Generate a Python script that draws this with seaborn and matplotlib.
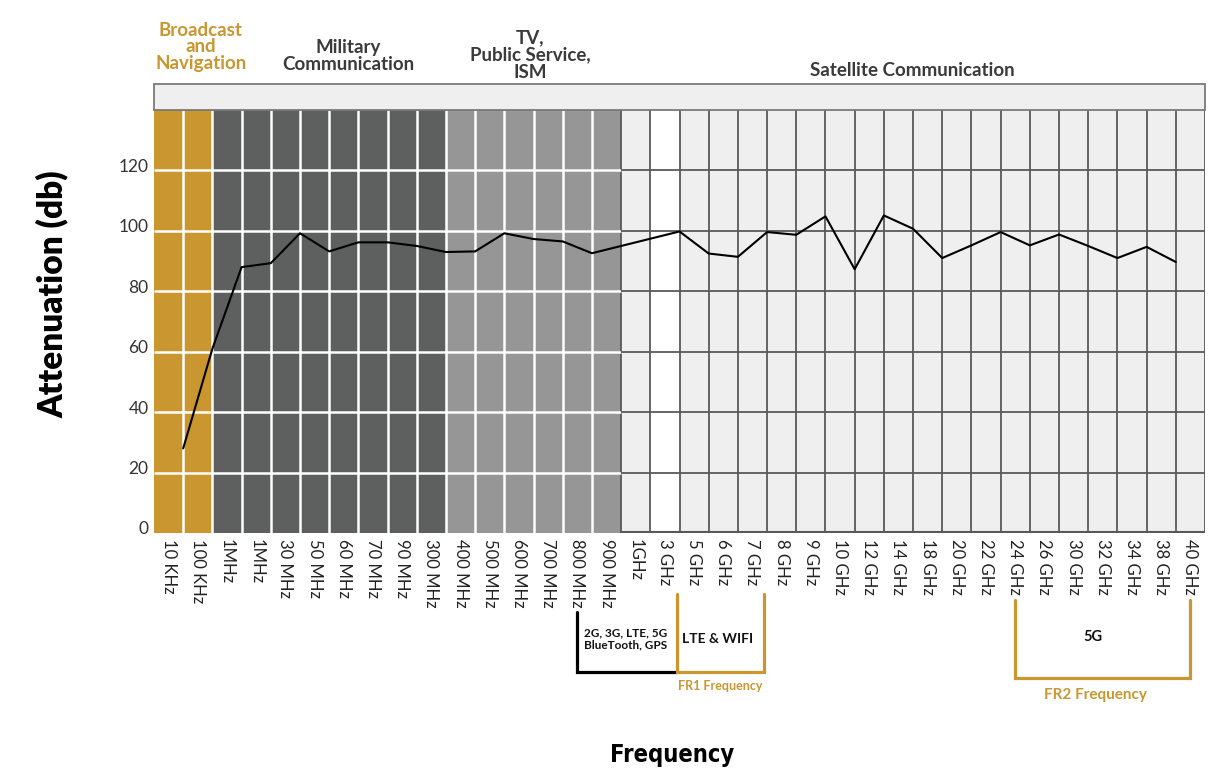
import numpy as np
import pandas as pd
import matplotlib.pyplot as plt
import matplotlib.transforms as mtransforms
from matplotlib.patches import Rectangle
import seaborn as sns

# frequency columns (x categories)
freqs = ['10 KHz', '100 KHz', '1MHz', '1MHz', '30 MHz', '50 MHz', '60 MHz', '70 MHz',
         '90 MHz', '300 MHz', '400 MHz', '500 MHz', '600 MHz', '700 MHz', '800 MHz',
         '900 MHz', '1GHz', '3 GHz', '5 GHz', '6 GHz', '7 GHz', '8 GHz', '9 GHz',
         '10 GHz', '12 GHz', '14 GHz', '18 GHz', '20 GHz', '22 GHz', '24 GHz', '26 GHz',
         '30 GHz', '32 GHz', '34 GHz', '38 GHz', '40 GHz']

# attenuation (db), none for 40 GHz
attenuation = [28, 61, 88, 89.3, 99.2, 93.2, 96.2, 96.2, 95, 93, 93.2, 99.2, 97.3,
               96.5, 92.6, 95, 97.4, 99.8, 92.5, 91.4, 99.6, 98.7, 104.8, 87.3, 105.1,
               100.7, 91, 95.2, 99.6, 95.2, 98.8, 95, 91, 94.7, 89.7, None]

# bands of the spectrum
band_names = ['Broadcast\nand\nNavigation', 'Military\nCommunication',
              'TV,\nPublic Service,\nISM', 'Satellite Communication']
band_sizes = [2, 8, 6, 20]
band_fill = ['#C9962F', '#5E5F5F', '#969696', '#F0EFEF']

yticks = [0, 20, 40, 60, 80, 100, 120]

GOLD = '#C9962F'
W, H = 1231, 784


def fx(px):
    return px / W


def fy(py):
    return 1 - py / H


sns.set_style('white')
plt.rcParams['font.family'] = ['Lato', 'DejaVu Sans']

fig = plt.figure(figsize=(12.31, 7.84), dpi=100)
ax = fig.add_axes([fx(154), fy(533), fx(1205 - 154), (533 - 110) / H])

n = len(freqs)
col_colors = []
for size, c in zip(band_sizes, band_fill):
    col_colors += [c] * size
col_colors[freqs.index('3 GHz')] = '#FFFFFF'

ax.bar(np.arange(n), [140] * n, width=1.0, color=col_colors, linewidth=0, zorder=0)

# grid: white over the coloured bands, dark over the satellite band
split = band_sizes[0] + band_sizes[1] + band_sizes[2]
for k in range(1, n + 1):
    x = k - 0.5
    if k < split:
        ax.vlines(x, 0, 140, color='white', lw=1.8, zorder=1)
    else:
        ax.vlines(x, 0, 140, color='#595959', lw=1.3, zorder=1)
for y in yticks[1:]:
    ax.hlines(y, -0.5, split - 0.5, color='white', lw=1.8, zorder=1)
    ax.hlines(y, split - 0.5, n - 0.5, color='#595959', lw=1.3, zorder=1)
ax.hlines(0.2, split - 0.5, n - 0.5, color='#595959', lw=1.5, zorder=1)

df = pd.DataFrame({'pos': np.arange(n) + 0.5, 'att': attenuation}).dropna()
sns.lineplot(data=df, x='pos', y='att', color='black', lw=1.5, ax=ax, zorder=3)

ax.set_xlim(-0.5, n - 0.5)
ax.set_ylim(0, 140)
ax.set_xticks(np.arange(n))
ax.set_xticklabels(freqs, rotation=-90, ha='center', va='top', fontsize=12, color='#222222')
ax.set_yticks(yticks)
ax.set_yticklabels([str(v) for v in yticks], fontsize=12.5, color='#333333')
ax.tick_params(length=0)
ax.tick_params(axis='x', pad=4)
ax.tick_params(axis='y', pad=4)
for lbl in ax.get_yticklabels():
    lbl.set_transform(lbl.get_transform() + mtransforms.ScaledTranslation(0, 0.05, fig.dpi_scale_trans))
ax.set_xlabel('')
ax.set_ylabel('')
sns.despine(ax=ax, left=True, bottom=True)

# header strip and band titles
fig.patches.append(Rectangle((fx(154), fy(110)), fx(1205 - 154), 26 / H, transform=fig.transFigure,
                             facecolor='#EFEFEF', edgecolor='#7A7A7A', lw=1.3))
title_kw = dict(ha='center', va='center', fontsize=13.5, fontweight='bold', linespacing=1.0)
fig.text(fx(201), fy(47), band_names[0], color=GOLD, **title_kw)
fig.text(fx(348), fy(55.5), band_names[1], color='#3A3A3A', **title_kw)
fig.text(fx(530), fy(55), band_names[2], color='#3A3A3A', **title_kw)
fig.text(fx(912), fy(71), band_names[3], color='#3A3A3A', **title_kw)

fig.text(fx(52), fy(294), 'Attenuation (db)', rotation=90, ha='center', va='center',
         fontsize=24, fontweight='heavy', color='black')
fig.text(fx(672), fy(755), 'Frequency', ha='center', va='center', fontsize=17,
         fontweight='bold', fontstretch='condensed', color='black', family=['DejaVu Sans'])

# brackets under the axis
tr = mtransforms.blended_transform_factory(ax.transData, fig.transFigure)
ax.plot([14, 14, 17.4], [fy(612), fy(672), fy(672)], color='black', lw=2.3,
        transform=tr, clip_on=False, solid_joinstyle='miter')
ax.plot([17.4, 17.4, 20.4, 20.4], [fy(594), fy(672), fy(672), fy(594)], color=GOLD, lw=2.3,
        transform=tr, clip_on=False, solid_joinstyle='miter')
ax.plot([29, 29, 35, 35], [fy(600), fy(678), fy(678), fy(600)], color=GOLD, lw=2.3,
        transform=tr, clip_on=False, solid_joinstyle='miter')

fig.text(fx(626), fy(639), '2G, 3G, LTE, 5G\nBlueTooth, GPS', ha='center', va='center',
         fontsize=8.5, fontweight='bold', color='#111111', linespacing=1.1)
fig.text(fx(718), fy(639), 'LTE & WIFI', ha='center', va='center', fontsize=10,
         fontweight='bold', color='#111111')
fig.text(fx(720), fy(686), 'FR1 Frequency', ha='center', va='center', fontsize=9,
         fontweight='bold', color=GOLD)
fig.text(fx(1093), fy(637), '5G', ha='center', va='center', fontsize=10.5,
         fontweight='bold', color='#111111')
fig.text(fx(1095), fy(695), 'FR2 Frequency', ha='center', va='center', fontsize=11,
         fontweight='bold', color=GOLD)

fig.savefig('out.png', dpi=100)
